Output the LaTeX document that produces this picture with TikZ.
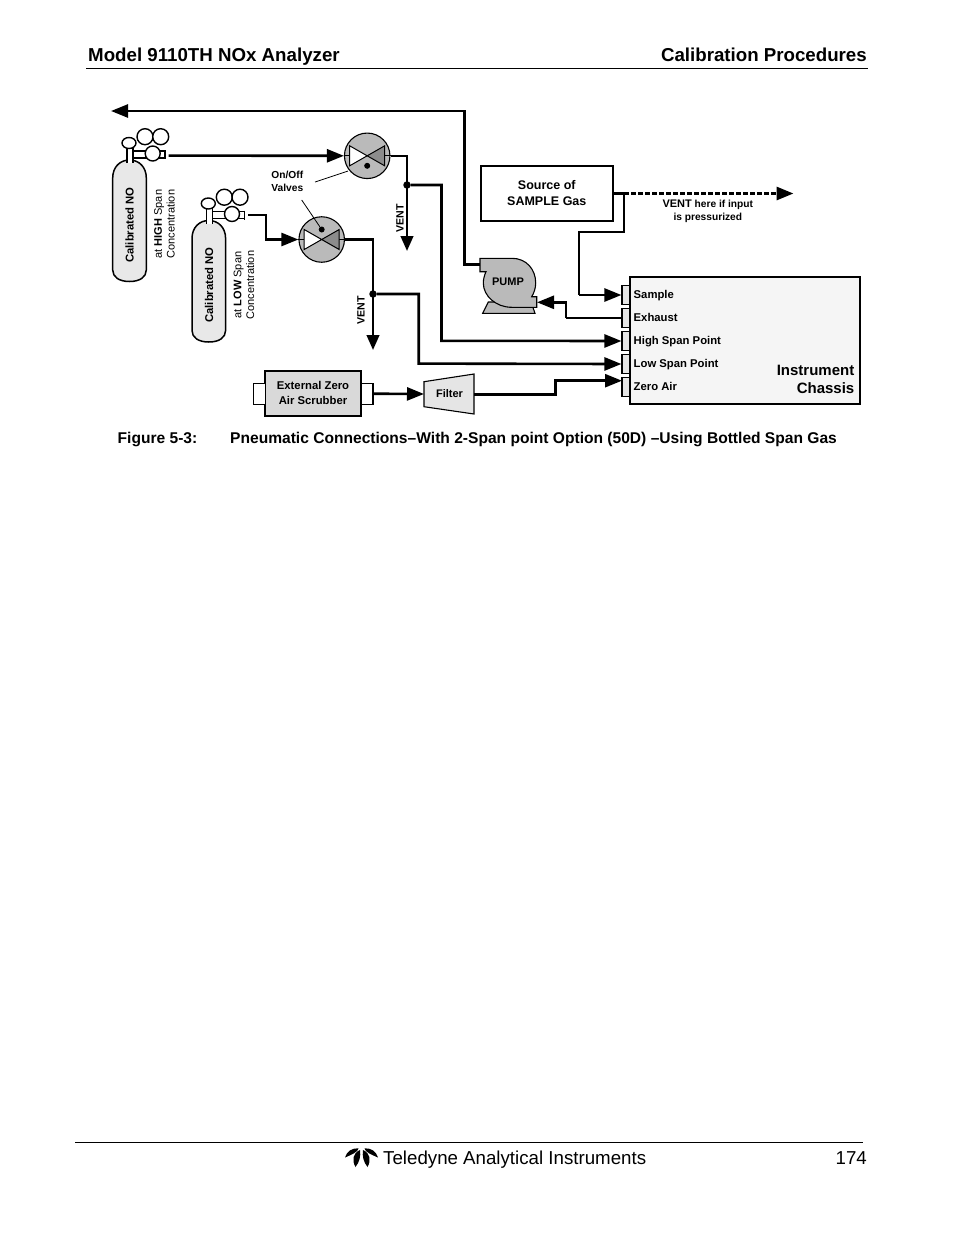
\documentclass[tikz,border=0pt]{standalone}
\usepackage{fontspec}
\setmainfont{Liberation Sans}
\usetikzlibrary{arrows.meta}
\tikzset{
  pipe/.style={line width=2.6pt,-{Triangle[length=17pt,width=13pt]}},
  pipeplain/.style={line width=2.6pt},
  thinline/.style={line width=0.8pt},
  heavybox/.style={draw,line width=2.2pt,inner sep=0pt},
  portbox/.style={draw,line width=1.1pt,fill=black!10,minimum width=8pt,minimum height=18.6pt,inner sep=0pt},
  stubbox/.style={draw,line width=1.1pt,fill=white,minimum width=12pt,minimum height=21pt,inner sep=0pt},
  valvebody/.style={circle,draw,line width=1.1pt,fill=black!27,minimum size=45.5pt,inner sep=0pt},
  dotnode/.style={circle,fill=black,minimum size=7.5pt,inner sep=0pt},
  txt/.style={inner sep=0pt,align=center},
  hdr/.style={txt,font=\bfseries\fontsize{18.7}{22}\selectfont},
  figcap/.style={txt,font=\bfseries\fontsize{15.58}{18}\selectfont},
  foot/.style={txt,font=\fontsize{18.7}{22}\selectfont},
  lab/.style={txt,font=\bfseries\fontsize{11.3}{15.3}\selectfont},
  boxlab/.style={txt,font=\bfseries\fontsize{12.5}{16.5}\selectfont},
  small/.style={txt,font=\bfseries\fontsize{10.2}{13}\selectfont},
  plainrot/.style={txt,rotate=90,font=\fontsize{11}{12.6}\selectfont},
  bottle/.pic={
    % cylinder body
    \draw[line width=1.5pt,fill=black!9] (112.7,270) -- (112.7,178)
      .. controls (112.7,167) and (120,160) .. (129.5,160)
      .. controls (139,160) and (146.3,167) .. (146.3,178) -- (146.3,270)
      .. controls (146.3,277) and (140,281.5) .. (129.5,281.5)
      .. controls (119,281.5) and (112.7,277) .. (112.7,270) -- cycle;
    % regulator
    \draw[line width=1.3pt] (130,151) -- (165,151) (130,158) -- (165,158) (165,150) -- (165,159);
    \draw[line width=1.3pt,fill=white] (127,163) -- (127,146) -- (133,146) -- (133,163);
    \draw[line width=1.4pt,fill=white] (129,143) ellipse (7pt and 5.5pt);
    \draw[line width=1.4pt,fill=white] (145,136.7) circle (8pt);
    \draw[line width=1.4pt,fill=white] (160.7,136.7) circle (8pt);
    \draw[line width=1.4pt,fill=white] (152.7,153.5) circle (7.5pt);
  }
}
\begin{document}
\begin{tikzpicture}[x=1pt,y=-1pt]
\useasboundingbox (0,0) rectangle (954,1235);
\fill[white] (0,0) rectangle (954,1235);
% Page header
\node[hdr,anchor=base west] (headLeft) at (88,61.5) {Model 9110TH NOx Analyzer};
\node[hdr,anchor=base east] (headRight) at (867,61.5) {Calibration Procedures};
\coordinate (headA) at (86,68.5);
\coordinate (headB) at (868,68.5);
\draw[line width=1pt] (headA) -- (headB);
% Bottles
\pic at (0,0) {bottle};
\pic at (79.3,60.5) {bottle};
\node[lab,rotate=90] (nameHigh) at (129.5,225) {Calibrated NO};
\node[lab,rotate=90] (nameLow) at (209,285) {Calibrated NO};
\node[plainrot] (concHigh) at (164.5,224) {at \textbf{HIGH} Span\\Concentration};
\node[plainrot] (concLow) at (244,285) {at \textbf{LOW} Span\\Concentration};
\coordinate (bottleHighOut) at (168.5,155.6);
\coordinate (bottleLowOut) at (248,215);
\coordinate (bendLow) at (266,239.5);
% Valves
\foreach \nm/\cx/\cy/\dy in {valveHigh/367.2/155.8/10,valveLow/321.7/239.5/-10}{
  \node[valvebody] (\nm) at (\cx,\cy) {};
  \draw[line width=1pt] (\nm.west) -- ++(6,0) (\nm.east) -- ++(-6,0);
  \draw[line width=1pt,fill=white] (\cx,\cy) -- ++(-17.5,-10) -- ++(0,20) -- cycle;
  \draw[line width=1pt,fill=black!45] (\cx,\cy) -- ++(17.5,-10) -- ++(0,20) -- cycle;
  \node[dotnode,minimum size=6pt] (\nm Dot) at (\cx,\cy+\dy) {};
}
\node[small] (valveText) at (287.3,181.5) {On/Off\\Valves};
\coordinate (leadA) at (315,182);
\coordinate (leadB) at (348,171);
\coordinate (leadC) at (301.7,200);
\draw[thinline] (leadA) -- (leadB);
\draw[thinline] (leadC) -- (valveLowDot);
% High span line
\draw[pipe] (bottleHighOut) -- (valveHigh.west);
\node[dotnode] (junHigh) at (407,185) {};
\coordinate (ventHigh) at (407,251);
\coordinate (bendHigh) at (441.5,340.8);
\draw[pipe,-{Triangle[length=15pt,width=12.5pt]}] (valveHigh.east) -| (ventHigh);
\node[lab,rotate=90,font=\bfseries\fontsize{10.6}{13}\selectfont] (ventHighText) at (400,218) {VENT};
% Low span line
\draw[pipe] (bottleLowOut) -| (bendLow) -- (valveLow.west);
\node[dotnode] (junLow) at (373,294) {};
\coordinate (ventLow) at (373,350);
\coordinate (bendLowB) at (418.7,363.6);
\draw[pipe,-{Triangle[length=15pt,width=12.5pt]}] (valveLow.east) -| (ventLow);
\node[lab,rotate=90,font=\bfseries\fontsize{10.6}{13}\selectfont] (ventLowText) at (361,310) {VENT};
% Instrument chassis
\node[heavybox,fill=black!4,minimum width=230pt,minimum height=127.3pt] (chassis) at (745,340.3) {};
\foreach \nm/\yy/\txt in {portSample/295/Sample,portExhaust/318/Exhaust,portHigh/341/High Span Point,portLow/364/Low Span Point,portZero/387/Zero Air}{
  \node[portbox] (\nm) at (626,\yy) {};
  \node[lab,anchor=base west] (\nm Text) at (633.5,\yy+3.4) {\txt};
}
\node[txt,font=\bfseries\fontsize{15}{18.2}\selectfont,align=right,anchor=south east] (chassisText) at (854.5,394) {Instrument\\Chassis};
\draw[pipe] (junHigh) -| (bendHigh) -- (portHigh.west);
\draw[pipe] (junLow) -| (bendLowB) -- (portLow.west);
% Sample source
\node[heavybox,minimum width=131.7pt,minimum height=55pt] (source) at (546.8,193.5) {};
\node[boxlab] (sourceText) at (546.8,193) {Source of\\SAMPLE Gas};
\coordinate (ventTee) at (624,193.5);
\coordinate (ventEnd) at (793.5,193.5);
\coordinate (sampleA) at (624,232);
\coordinate (sampleB) at (579,232);
\draw[pipeplain] (source.east) -- (ventTee) -- (sampleA) -- (sampleB) -- (sampleB |- portSample);
\draw[pipe] (sampleB |- portSample) -- (portSample.west);
\draw[pipe,line width=3pt,dash pattern=on 5pt off 2pt] (ventTee) -- (ventEnd);
\node[small] (ventText) at (707.8,211) {{\fontsize{11}{13}\selectfont VENT} here if input\\is pressurized};
% Pump
\draw[line width=1.1pt,fill=black!27] (482.7,313.3) -- (488.3,302) -- (531,302) -- (535,313.3) -- cycle;
\draw[line width=1.1pt,fill=black!27] (480,258.3) -- (512,258.3)
  .. controls (526,258.3) and (535.7,269) .. (535.7,283)
  .. controls (535.7,288) and (534,293) .. (531.7,296.7)
  -- (536.7,296.7) -- (536.7,307.3) -- (511.7,307.3)
  .. controls (496,307.3) and (483.3,296) .. (483.3,283)
  .. controls (483.3,279) and (484.5,275) .. (486,271.7)
  -- (480,271.7) -- cycle;
\node[lab,font=\bfseries\fontsize{11}{13}\selectfont] (pump) at (508,282) {PUMP};
\coordinate (pumpOut) at (480,264.4);
\coordinate (pumpIn) at (537,302.3);
\coordinate (outUp) at (464.3,111);
\coordinate (outEnd) at (111,111);
\draw[pipe] (pumpOut) -| (outUp) -- (outEnd);
\coordinate (exhaustA) at (566,318);
\draw[pipeplain] (portExhaust.west) -- (exhaustA);
\draw[pipe] (exhaustA) |- (pumpIn);
% Zero air line
\node[heavybox,line width=2.6pt,fill=black!15,minimum width=95.7pt,minimum height=45pt] (scrubber) at (313,393.5) {};
\node[lab] (scrubberText) at (313,393) {External Zero\\Air Scrubber};
\node[stubbox] (stubLeft) at (259.5,393.7) {};
\node[stubbox] (stubRight) at (367,393.7) {};
\draw[line width=1.1pt,fill=black!10] (424,381.7) -- (474,374) -- (474,414) -- (424,406.7) -- cycle;
\node[lab,font=\bfseries\fontsize{11}{13}\selectfont] (filter) at (449.5,394) {Filter};
\coordinate (filterIn) at (424,394);
\coordinate (filterOut) at (474,394.4);
\coordinate (zeroA) at (555.5,394.4);
\coordinate (zeroB) at (555.5,380.7);
\coordinate (zeroIn) at (622,380.7);
\draw[pipe] (stubRight.east) -- (filterIn);
\draw[pipe] (filterOut) -- (zeroA) -- (zeroB) -- (zeroIn);
% Caption
\node[figcap,anchor=base west] (capNum) at (117.5,443.5) {Figure 5-3:};
\node[figcap,anchor=base west] (capText) at (230,443.5) {Pneumatic Connections–With 2-Span point Option (50D) –Using Bottled Span Gas};
% Page footer
\coordinate (footA) at (75,1142.5);
\coordinate (footB) at (863,1142.5);
\draw[line width=1pt] (footA) -- (footB);
\foreach \sx/\ox in {1/0,-1/723}{
  \begin{scope}[xshift=\ox pt,xscale=\sx]
  \fill (345,1157.5) .. controls (347,1151) and (352,1148) .. (358.5,1148.3)
    .. controls (358,1152) and (352,1154.5) .. (345,1157.5) -- cycle;
  \fill (360,1150) .. controls (353,1153) and (351.5,1160) .. (355.5,1167)
    .. controls (359.5,1162) and (361,1156) .. (360,1150) -- cycle;
  \end{scope}
}
\node[foot,anchor=base west] (footText) at (383,1164.5) {Teledyne Analytical Instruments};
\node[foot,anchor=base east] (footPage) at (867,1164.5) {174};
\end{tikzpicture}
\end{document}
